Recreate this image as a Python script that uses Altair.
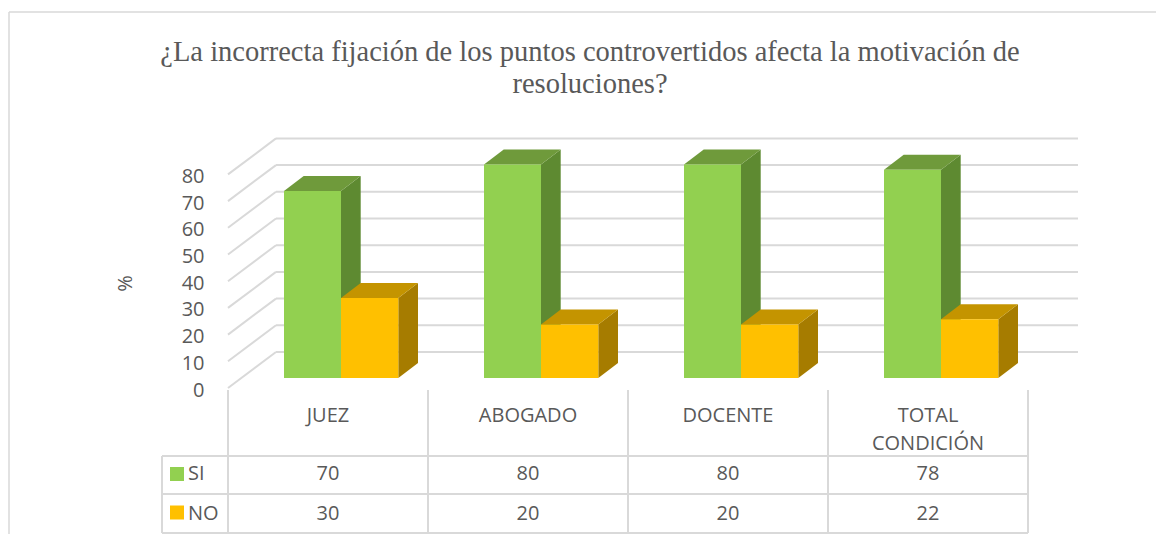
import altair as alt
import pandas as pd

# ---- data ----
categories = ["JUEZ", "ABOGADO", "DOCENTE", "TOTAL\nCONDICIÓN"]
si_values = [70, 80, 80, 78]
no_values = [30, 20, 20, 22]
series = ["SI", "NO"]
tick_values = [0, 10, 20, 30, 40, 50, 60, 70, 80]
title_lines = "¿La incorrecta fijación de los puntos controvertidos afecta la motivación de\nresoluciones?"

# ---- style / layout ----
front_col = {"SI": "#92D050", "NO": "#FFC000"}
side_col = {"SI": "#5E8A31", "NO": "#A67C00"}
top_col = {"SI": "#6F9A3B", "NO": "#C49400"}
GRID = "#D9D9D9"
TXT = "#595959"
SANS = "Open Sans"

W, H = 800, 267           # plot area: 4 category units x 100 value units
PXU = W / 4.0
PXV = H / 100.0
BACK_DU, BACK_DV = 48 / PXU, 36 / PXV     # back wall depth
BASE_DV = 10 / PXV                         # bars sit a little behind the front plane
BAR_DU, BAR_DV = 19.7 / PXU, 15 / PXV     # bar depth
slots = {"SI": (0.28, 0.565), "NO": (0.565, 0.8515)}

xs = alt.Scale(domain=[0, 4], nice=False, zero=False)
ys = alt.Scale(domain=[0, 100], nice=False, zero=False)
yaxis = alt.Axis(values=tick_values, orient="left", domain=False, ticks=False, grid=False,
                 labelPadding=24, labelOffset=2, labelFont=SANS, labelFontSize=20,
                 labelColor=TXT, title="%", titleX=-103, titleY=162, titleAngle=270,
                 titleFont=SANS, titleFontSize=20, titleFontWeight="normal",
                 titleColor=TXT, titleAlign="center", titleBaseline="middle")


def X(f):
    return alt.X(f, type="quantitative", scale=xs, axis=None)


def Y(f):
    return alt.Y(f, type="quantitative", scale=ys, axis=yaxis)


# ---- back wall gridlines ----
grid_rows = []
for t in tick_values:
    grid_rows.append({"x": 0.0, "x2": BACK_DU, "y": t, "y2": t + BACK_DV})
    grid_rows.append({"x": BACK_DU, "x2": 4 + BACK_DU + 0.01, "y": t + BACK_DV, "y2": t + BACK_DV})
grid = alt.Chart(pd.DataFrame(grid_rows)).mark_rule(color=GRID, strokeWidth=2).encode(
    x=X("x"), x2="x2", y=Y("y"), y2="y2")

# ---- bar faces ----
layers = [grid]
for s, vals in (("SI", si_values), ("NO", no_values)):
    front, side, top = [], [], []
    for i, (c, v) in enumerate(zip(categories, vals)):
        l, r = i + slots[s][0], i + slots[s][1]
        b = BASE_DV
        t = b + v
        front.append({"cat": c, "l": l, "r": r, "b": b, "t": t, "v": v})
        side.append({"id": c, "x": r, "y": t, "y2": b})
        side.append({"id": c, "x": r + BAR_DU, "y": t + BAR_DV, "y2": b + BAR_DV})
        top.append({"id": c, "y": t, "x": l, "x2": r})
        top.append({"id": c, "y": t + BAR_DV, "x": l + BAR_DU, "x2": r + BAR_DU})
    layers.append(alt.Chart(pd.DataFrame(side)).mark_area(
        orient="vertical", color=side_col[s], interpolate="linear").encode(
        x=X("x"), y=Y("y"), y2="y2", detail="id:N"))
    layers.append(alt.Chart(pd.DataFrame(top)).mark_area(
        orient="horizontal", color=top_col[s], interpolate="linear").encode(
        y=Y("y"), x=X("x"), x2="x2", detail="id:N"))
    layers.append(alt.Chart(pd.DataFrame(front)).mark_rect(color=front_col[s]).encode(
        x=X("l"), x2="r", y=Y("b"), y2="t"))

# ---- data table ----
cat_df = pd.DataFrame({"cat": categories, "c": [i + 0.5 for i in range(4)],
                       "si": si_values, "no": no_values})
bounds = pd.DataFrame({"u": [0, 1, 2, 3, 4]})
layers.append(alt.Chart(bounds).mark_rule(color=GRID, strokeWidth=2).encode(
    x=X("u"), y=alt.value(269), y2=alt.value(412)))
hl = pd.DataFrame({"row": series + ["bottom"], "yy": [335, 373, 412]})
layers.append(alt.Chart(hl).mark_rule(color=GRID, strokeWidth=2).encode(
    x=alt.value(-66), x2=alt.value(W), y=alt.Y("yy:Q", scale=None)))
layers.append(alt.Chart(hl.head(1)).mark_rule(color=GRID, strokeWidth=2).encode(
    x=alt.value(-66), y=alt.value(335), y2=alt.value(412)))
layers.append(alt.Chart(cat_df).mark_text(
    font=SANS, fontSize=20, color=TXT, baseline="alphabetic", align="center",
    lineBreak="\n", lineHeight=28).encode(x=X("c"), y=alt.value(301), text="cat:N"))
layers.append(alt.Chart(cat_df).mark_text(
    font=SANS, fontSize=20, color=TXT, baseline="alphabetic", align="center").encode(
    x=X("c"), y=alt.value(359), text="si:Q"))
layers.append(alt.Chart(cat_df).mark_text(
    font=SANS, fontSize=20, color=TXT, baseline="alphabetic", align="center").encode(
    x=X("c"), y=alt.value(399), text="no:Q"))

# legend keys inside the table
leg = pd.DataFrame({"s": series, "yy": [353, 391.5], "ty": [359, 399]})
layers.append(alt.Chart(leg).mark_square(size=196, opacity=1).encode(
    x=alt.value(-51), y=alt.Y("yy:Q", scale=None),
    color=alt.Color("s:N", scale=alt.Scale(domain=series, range=[front_col["SI"], front_col["NO"]]),
                    legend=None)))
layers.append(alt.Chart(leg).mark_text(
    font=SANS, fontSize=20, color=TXT, baseline="alphabetic", align="left").encode(
    x=alt.value(-40), y=alt.Y("ty:Q", scale=None), text="s:N"))

# ---- title ----
layers.append(alt.Chart(pd.DataFrame({"t": [title_lines]})).mark_text(
    font="Liberation Serif", fontSize=28.5, color=TXT, baseline="alphabetic", align="center",
    lineBreak="\n", lineHeight=32).encode(x=alt.value(362), y=alt.value(-60), text="t:N"))

# ---- chart frame ----
layers.append(alt.Chart(pd.DataFrame({"k": [0]})).mark_rule(color=GRID, strokeWidth=1.5).encode(
    x=alt.value(-219), y=alt.value(-109), y2=alt.value(413)))
layers.append(alt.Chart(pd.DataFrame({"k": [0]})).mark_rule(color=GRID, strokeWidth=1.5).encode(
    x=alt.value(-219), x2=alt.value(928), y=alt.value(-109)))

chart = alt.layer(*layers).properties(
    width=W, height=H, autosize="none", background="white",
    padding={"left": 220, "top": 113, "right": 128, "bottom": 146},
).configure_view(strokeWidth=0, stroke="transparent")

chart.save("out.html", embed_options={"renderer": "svg", "actions": False})
